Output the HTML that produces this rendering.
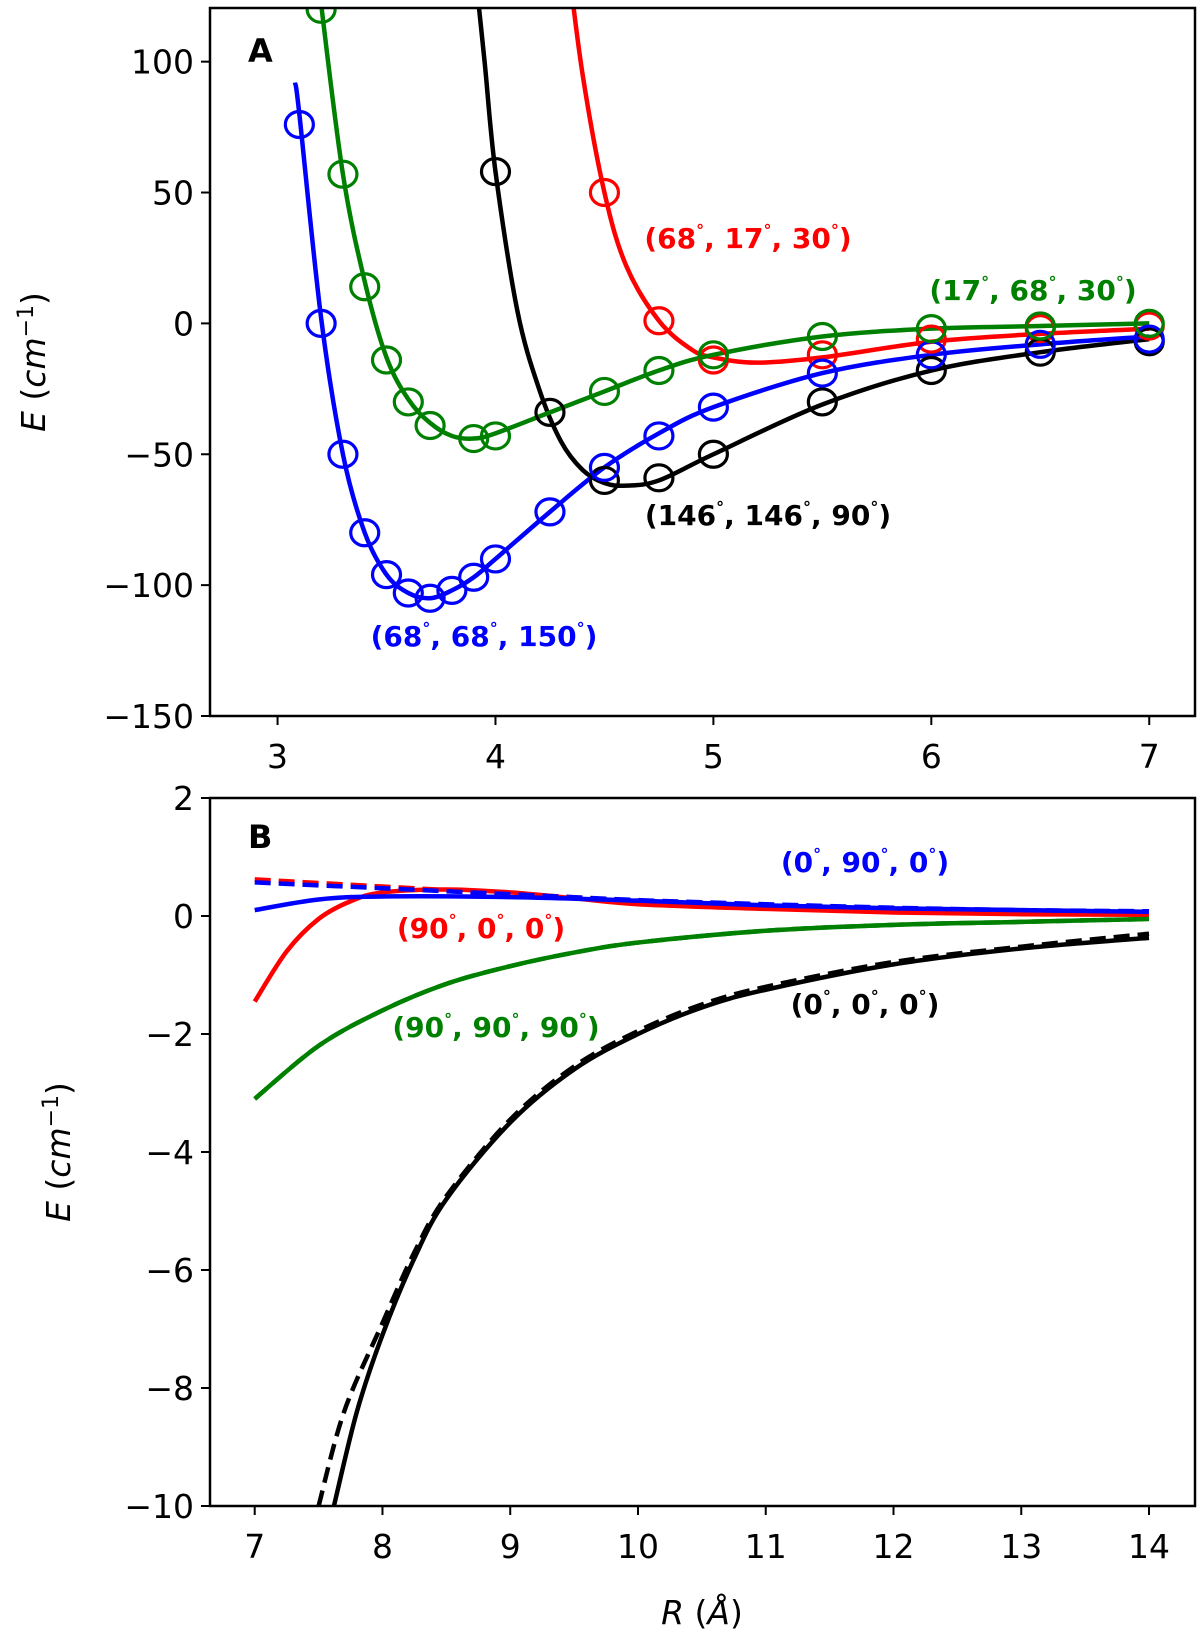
<!DOCTYPE html>
<html><head><meta charset="utf-8"><style>
body{margin:0;background:#fff;}
svg{display:block;font-family:"DejaVu Sans","Liberation Sans",sans-serif;}
.tk{font-size:33px;fill:#000;}
.lb{font-size:28px;font-weight:bold;}
</style></head><body>
<svg id="chart" width="1200" height="1636" viewBox="0 0 1200 1636" xmlns="http://www.w3.org/2000/svg"></svg>
<script>
// Panel A data (markers)
const aBlueR=[3.1,3.2,3.3,3.4,3.5,3.6,3.7,3.8,3.9,4.0,4.25,4.5,4.75,5,5.5,6,6.5,7];
const aBlueE=[76,0,-50,-80,-96,-103,-105,-102,-97,-90,-72,-55,-43,-32,-19,-12,-8,-6];
const aGreenR=[3.2,3.3,3.4,3.5,3.6,3.7,3.9,4.0,4.5,4.75,5,5.5,6,6.5,7];
const aGreenE=[120,57,14,-14,-30,-39,-44,-43,-26,-18,-12,-5,-2,-1,0];
const aBlackR=[4.0,4.25,4.5,4.75,5,5.5,6,6.5,7];
const aBlackE=[58,-34,-60,-59,-50,-30,-18,-11,-7];
const aRedR=[4.5,4.75,5,5.5,6,6.5,7];
const aRedE=[50,1,-14,-12,-6,-2,-1];
// Panel A fitted curves
const cBlueR=[3.08,3.1,3.2,3.3,3.4,3.5,3.6,3.7,3.8,3.9,4.0,4.25,4.5,4.75,5,5.5,6,6.5,7];
const cBlueE=[92,80,2,-50,-80,-96,-103,-105,-102,-97,-90,-72,-55,-42,-32,-19,-12,-8,-5];
const cGreenR=[3.15,3.2,3.3,3.4,3.5,3.6,3.7,3.8,3.9,4.0,4.25,4.5,4.75,5,5.5,6,6.5,7];
const cGreenE=[160,122,57,16,-13,-29,-38,-43,-44,-42,-34,-26,-18,-12,-5,-2,-1,0];
const cBlackR=[3.9,3.95,4.0,4.1,4.2,4.3,4.4,4.5,4.6,4.75,5,5.5,6,6.5,7];
const cBlackE=[140,100,58,5,-25,-45,-56,-61,-62,-60,-50,-31,-18,-11,-6];
const cRedR=[4.33,4.4,4.5,4.6,4.75,4.9,5.0,5.2,5.5,6,6.5,7];
const cRedE=[140,95,50,22,1,-10,-13,-15,-13,-7,-4,-2];
// Panel B curves
const bBlackR=[7.62,7.8,8,8.25,8.5,9,9.5,10,10.5,11,12,13,14];
const bBlackE=[-10,-8.4,-7.1,-5.8,-4.8,-3.5,-2.6,-2.0,-1.55,-1.25,-0.82,-0.55,-0.37];
const bBlackDR=[7.5,7.7,8,8.25,8.5,9,9.5,10,10.5,11,12,13,14];
const bBlackDE=[-10,-8.4,-6.9,-5.7,-4.75,-3.45,-2.55,-1.95,-1.5,-1.2,-0.78,-0.52,-0.3];
const bGreenR=[7,7.5,8,8.5,9,9.5,10,11,12,13,14];
const bGreenE=[-3.1,-2.2,-1.6,-1.15,-0.85,-0.62,-0.45,-0.25,-0.15,-0.1,-0.05];
const bRedR=[7,7.25,7.5,7.75,8,8.5,9,9.5,10,11,12,13,14];
const bRedE=[-1.45,-0.6,-0.05,0.25,0.4,0.45,0.4,0.3,0.2,0.12,0.06,0.03,0.02];
const bRedDR=[7,8,9,10,11,12,13,14];
const bRedDE=[0.62,0.5,0.38,0.26,0.18,0.12,0.08,0.05];
const bBlueR=[7,7.5,8,9,10,11,12,13,14];
const bBlueE=[0.1,0.28,0.33,0.32,0.26,0.18,0.13,0.1,0.07];
const bBlueDR=[7,8,9,10,11,12,13,14];
const bBlueDE=[0.57,0.47,0.37,0.27,0.2,0.14,0.1,0.08];
const aXTicks=[3,4,5,6,7];
const aYTicks=[100,50,0,-50,-100,-150];
const bXTicks=[7,8,9,10,11,12,13,14];
const bYTicks=[2,0,-2,-4,-6,-8,-10];

const NS="http://www.w3.org/2000/svg";
const svg=document.getElementById('chart');
function el(t,a,p){const e=document.createElementNS(NS,t);for(const k in a)e.setAttribute(k,a[k]);(p||svg).appendChild(e);return e;}
function axes(L,R,T,B,x0,x1,y0,y1){return{L,R,T,B,x:v=>L+(v-x0)/(x1-x0)*(R-L),y:v=>B-(v-y0)/(y1-y0)*(B-T)};}
const A=axes(210,1195,8,716,2.69,7.21,-150,120.5);
const Bp=axes(210,1195,798,1506,6.65,14.36,-10,2);
function smooth(ax,xs,ys){
 const p=xs.map((x,i)=>[ax.x(x),ax.y(ys[i])]);
 let d=`M${p[0][0]},${p[0][1]}`;
 for(let i=0;i<p.length-1;i++){
  const p0=p[i-1]||p[i],p1=p[i],p2=p[i+1],p3=p[i+2]||p2;
  d+=` C${p1[0]+(p2[0]-p0[0])/6},${p1[1]+(p2[1]-p0[1])/6} ${p2[0]-(p3[0]-p1[0])/6},${p2[1]-(p3[1]-p1[1])/6} ${p2[0]},${p2[1]}`;
 }
 return d;
}
function panel(ax,id,xt,yt,ylx){
 const g=el('g',{});
 
 
 const cp=el('clipPath',{id:id+'-clip'},g);el('rect',{x:ax.L,y:ax.T,width:ax.R-ax.L,height:ax.B-ax.T},cp);
 xt.forEach(v=>{const x=ax.x(v);el('line',{x1:x,x2:x,y1:ax.B,y2:ax.B+9,stroke:'#000','stroke-width':2},g);
  const t=el('text',{x:x,y:ax.B+52,'text-anchor':'middle',class:'tk'},g);t.textContent=v;
  });
 yt.forEach(v=>{const y=ax.y(v);el('line',{x1:ax.L-9,x2:ax.L,y1:y,y2:y,stroke:'#000','stroke-width':2},g);
  const t=el('text',{x:ax.L-16,y:y+12,'text-anchor':'end',class:'tk'},g);t.textContent=v<0?'\u2212'+(-v):v;
  });
 const yl=el('text',{transform:`translate(${ylx},${(ax.T+ax.B)/2}) rotate(-90)`,'text-anchor':'middle',class:'tk'},g);
 yl.innerHTML='<tspan font-style="italic">E</tspan> (<tspan font-style="italic">cm</tspan><tspan dy="-12" font-size="22">\u22121</tspan><tspan dy="12">)</tspan>';
 
 const pg=el('g',{'clip-path':`url(#${id}-clip)`},g);
 return {g,pg};
}
function line(P,ax,xs,ys,c,dash,name,w){
 const p=el('path',{d:smooth(ax,xs,ys),fill:'none',stroke:c,'stroke-width':w||4.5,'stroke-dasharray':dash||'none'},P.pg);
 
}
function marks(P,ax,xs,ys,c,name){
 xs.forEach((x,i)=>{const m=el('ellipse',{cx:ax.x(x),cy:ax.y(ys[i]),rx:14,ry:13,fill:'none',stroke:c,'stroke-width':3.2},P.pg);
  });
}
function label(txt,x,y,c,name){
 const t=el('text',{x:x,y:y,'text-anchor':'middle',class:'lb',fill:c});
 const parts=txt.split(',');
 let h='(';
 parts.forEach((p,i)=>{
   h+=(i===0?p:'<tspan dy="12">, '+p+'</tspan>')+'<tspan dy="-12" font-size="16">\u00b0</tspan>';
 });
 h+='<tspan dy="12">)</tspan>';
 t.innerHTML=h;
 
}
// Panel A
const PA=panel(A,'panel-a',aXTicks,aYTicks,45);
line(PA,A,cRedR,cRedE,'#ff0000',null,'curve-red');
line(PA,A,cBlackR,cBlackE,'#000',null,'curve-black');
line(PA,A,cBlueR,cBlueE,'#0000ff',null,'curve-blue');
line(PA,A,cGreenR,cGreenE,'#008000',null,'curve-green');
marks(PA,A,aRedR,aRedE,'#ff0000','marker-red');
marks(PA,A,aBlackR,aBlackE,'#000','marker-black');
marks(PA,A,aBlueR,aBlueE,'#0000ff','marker-blue');
marks(PA,A,aGreenR,aGreenE,'#008000','marker-green');
el('rect',{x:A.L,y:A.T,width:A.R-A.L,height:A.B-A.T,fill:'none',stroke:'#000','stroke-width':2.5});
let t=el('text',{x:248,y:62,style:'font-size:32px;font-weight:bold'});t.textContent='A';
label('68,17,30',748,248,'#ff0000','label-red');
label('17,68,30',1033,300,'#008000','label-green');
label('146,146,90',768,525,'#000','label-black');
label('68,68,150',484,646,'#0000ff','label-blue');
// Panel B
const PB=panel(Bp,'panel-b',bXTicks,bYTicks,70);
line(PB,Bp,bRedDR,bRedDE,'#ff0000','16,8','curve-red-dashed');
line(PB,Bp,bRedR,bRedE,'#ff0000',null,'curve-red');
line(PB,Bp,bGreenR,bGreenE,'#008000','16,8','curve-green-dashed');
line(PB,Bp,bGreenR,bGreenE,'#008000',null,'curve-green');
line(PB,Bp,bBlackDR,bBlackDE,'#000','16,8','curve-black-dashed');
line(PB,Bp,bBlackR,bBlackE,'#000',null,'curve-black');
line(PB,Bp,bBlueDR,bBlueDE,'#0000ff','16,8','curve-blue-dashed');
line(PB,Bp,bBlueR,bBlueE,'#0000ff',null,'curve-blue');
el('rect',{x:Bp.L,y:Bp.T,width:Bp.R-Bp.L,height:Bp.B-Bp.T,fill:'none',stroke:'#000','stroke-width':2.5});
t=el('text',{x:248,y:848,style:'font-size:32px;font-weight:bold'});t.textContent='B';
label('0,90,0',865,872,'#0000ff','label-blue');
label('90,0,0',481,938,'#ff0000','label-red');
label('90,90,90',496,1037,'#008000','label-green');
label('0,0,0',865,1014,'#000','label-black');
t=el('text',{x:702,y:1624,'text-anchor':'middle',class:'tk'});
t.innerHTML='<tspan font-style="italic">R</tspan> (<tspan font-style="italic">Å</tspan>)';

</script>
</body></html>
